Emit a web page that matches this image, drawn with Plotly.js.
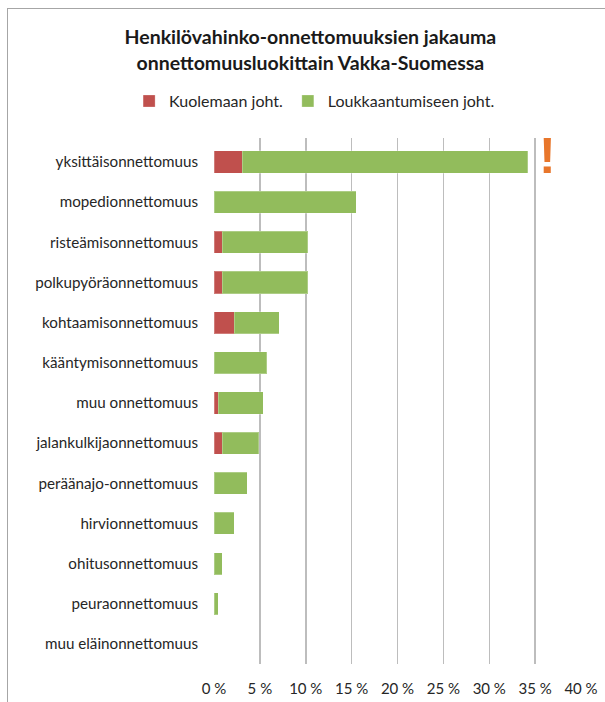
<!DOCTYPE html>
<html>
<head>
<meta charset="utf-8">
<script src="https://cdn.plot.ly/plotly-3.0.1.min.js"></script>
<style>
  html, body { margin: 0; padding: 0; background: #fff; }
  #wrap { position: relative; width: 605px; height: 702px; }
  #chart { position: absolute; left: 0; top: 0; width: 605px; height: 702px; }
  #frame { position: absolute; left: 7px; top: 8px; width: 610px; height: 710px;
           border-top: 1px solid #a6a6a6; border-left: 1px solid #a6a6a6; pointer-events: none; }
</style>
</head>
<body>
<div id="wrap">
  <div id="chart"></div>
  <div id="frame"></div>
</div>
<script>
const categories = [
  "yksittäisonnettomuus",
  "mopedionnettomuus",
  "risteämisonnettomuus",
  "polkupyöräonnettomuus",
  "kohtaamisonnettomuus",
  "kääntymisonnettomuus",
  "muu onnettomuus",
  "jalankulkijaonnettomuus",
  "peräänajo-onnettomuus",
  "hirvionnettomuus",
  "ohitusonnettomuus",
  "peuraonnettomuus",
  "muu eläinonnettomuus"
];
const kuolemaan = [3.1, 0, 0.9, 0.9, 2.2, 0, 0.45, 0.9, 0, 0, 0, 0, 0];
const loukkaantumiseen = [31.1, 15.5, 9.3, 9.3, 4.9, 5.75, 4.9, 4.0, 3.6, 2.2, 0.9, 0.45, 0];
const seriesNames = ["Kuolemaan joht.", "Loukkaantumiseen joht."];
const titleText = "Henkilövahinko-onnettomuuksien jakauma<br>onnettomuusluokittain Vakka-Suomessa";

const FONT = "Lato, 'Open Sans', sans-serif";

const traces = [
  {
    type: "bar", orientation: "h", name: seriesNames[0],
    y: categories, x: kuolemaan,
    marker: { color: "#C0504D", line: { color: "rgba(255,255,255,0.25)", width: 1 } },
    hoverinfo: "x+y"
  },
  {
    type: "bar", orientation: "h", name: seriesNames[1],
    y: categories, x: loukkaantumiseen,
    marker: { color: "#92BC5C", line: { color: "rgba(255,255,255,0.25)", width: 1 } },
    hoverinfo: "x+y"
  }
];

const layout = {
  width: 605, height: 702,
  paper_bgcolor: "#ffffff", plot_bgcolor: "#ffffff",
  margin: { l: 214, r: 24, t: 138, b: 38 },
  barmode: "stack",
  bargap: 0.45,
  font: { family: FONT, color: "#262626", size: 15 },
  title: {
    text: titleText,
    font: { family: FONT, size: 19.5, color: "#1a1a1a", weight: "bold" },
    xref: "container", x: 0.513, xanchor: "center",
    yref: "container", y: 0.937, yanchor: "top"
  },
  showlegend: true,
  legend: {
    orientation: "h",
    xref: "container", x: 0.52, xanchor: "center",
    yref: "container", y: 0.856, yanchor: "middle",
    font: { family: FONT, size: 16, color: "#262626" },
    traceorder: "normal",
    itemwidth: 30
  },
  xaxis: {
    range: [0, 40],
    dtick: 5, tick0: 0,
    ticksuffix: " %",
    showgrid: true, gridcolor: "#bdbdbd", gridwidth: 1.5,
    zeroline: false,
    showline: false,
    ticks: "",
    ticklabelstandoff: 14,
    tickfont: { family: FONT, size: 15, color: "#262626" },
    fixedrange: true
  },
  yaxis: {
    type: "category",
    autorange: "reversed",
    showgrid: false, zeroline: false, showline: false,
    ticks: "",
    ticklabelstandoff: 15,
    tickfont: { family: FONT, size: 15.2, color: "#262626" },
    fixedrange: true
  },
  annotations: [
    {
      text: "<b>!</b>", x: 36.3, y: categories[0], xref: "x", yref: "y",
      showarrow: false, xanchor: "center", yanchor: "middle", yshift: 6,
      font: { family: "'Liberation Sans', sans-serif", size: 50, color: "#E8762B" }
    }
  ]
};

Plotly.newPlot("chart", traces, layout, { displayModeBar: false, staticPlot: true });
</script>
</body>
</html>
